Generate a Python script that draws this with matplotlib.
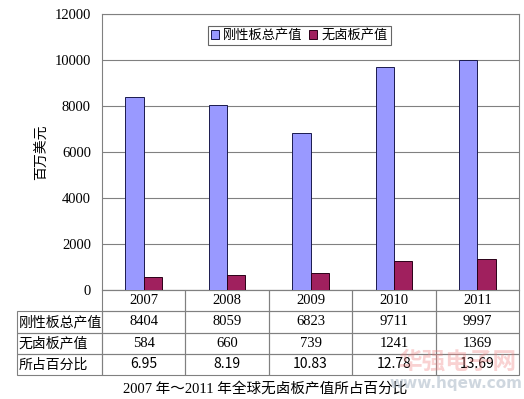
import matplotlib.pyplot as plt
import numpy as np

plt.rcParams['font.family'] = ['Liberation Serif', 'Noto Sans CJK SC']

years = ['2007', '2008', '2009', '2010', '2011']
rigid = [8404, 8059, 6823, 9711, 9997]
halogen_free = [584, 660, 739, 1241, 1369]
pct = ['6.95', '8.19', '10.83', '12.78', '13.69']
row_names = ['刚性板总产值', '无卤板产值', '所占百分比']
y_ticks = [0, 2000, 4000, 6000, 8000, 10000, 12000]

fig = plt.figure(figsize=(5.24, 3.99), dpi=100)
ax = fig.add_axes([102 / 524, 1 - 290 / 399, 417 / 524, 276 / 399])

x = np.arange(len(years))
w = 0.22
ax.bar(x - w / 2, rigid, w, color='#9999FF', edgecolor='#1a1a4d', linewidth=0.7,
       label=row_names[0], zorder=3)
ax.bar(x + w / 2, halogen_free, w, color='#A0205E', edgecolor='#2a0018', linewidth=0.7,
       label=row_names[1], zorder=3)

ax.set_xlim(-0.5, len(years) - 0.5)
ax.set_ylim(0, 12000)
ax.set_yticks(y_ticks)
ax.set_yticklabels([str(v) for v in y_ticks], fontsize=10.5)
ax.set_xticks([])
ax.tick_params(axis='y', length=0, pad=8)
ax.grid(axis='y', color='#808080', linewidth=0.8, zorder=0)
for s in ax.spines.values():
    s.set_color('#808080')
    s.set_linewidth(0.8)
ax.set_ylabel('百万美元', fontsize=10, family='Noto Sans CJK SC', labelpad=4)

leg = ax.legend(loc='upper left', bbox_to_anchor=(0.254, 0.957), ncol=2,
                prop={'family': 'Noto Sans CJK SC', 'size': 9.5},
                frameon=True, fancybox=False, handlelength=0.6, handleheight=0.6,
                handletextpad=0.3, columnspacing=0.5, borderpad=0.25, borderaxespad=0)
leg.get_frame().set_edgecolor('#404040')
leg.get_frame().set_linewidth(0.8)

# data table under the axis
cells = [[''] + years,
         [row_names[0]] + [str(v) for v in rigid],
         [row_names[1]] + [str(v) for v in halogen_free],
         [row_names[2]] + pct]
left = 85 / 417
tbl = ax.table(cellText=cells, cellLoc='center',
               colWidths=[left] + [1 / len(years)] * len(years),
               bbox=[-left, -85 / 276, 1 + left, 85 / 276])
tbl.auto_set_font_size(False)
for (r, c), cell in tbl.get_celld().items():
    cell.set_edgecolor('#808080')
    cell.set_linewidth(0.8)
    cell.set_facecolor('none')
    txt = cell.get_text()
    txt.set_fontsize(10.5)
    if c == 0:
        txt.set_family('Noto Sans CJK SC')
        txt.set_fontsize(10)
        txt.set_ha('left')
        cell.PAD = 0.02
    if r == 3 and c > 0:
        txt.set_family('Noto Sans CJK SC')
        txt.set_fontsize(10)
    if r == 0 and c == 0:
        cell.visible_edges = ''

fig.text(0.507, 0.027, '2007 年～2011 年全球无卤板产值所占百分比', ha='center', va='center',
         fontsize=10.5, family=['Liberation Serif', 'Noto Sans CJK SC'])

# faint watermark
fig.text(0.873, 0.093, '华强电子网', ha='center', va='center', fontsize=17,
         family='Noto Sans CJK SC', color='#f08080', alpha=0.35, weight='bold')
fig.text(0.871, 0.04, 'www.hqew.com', ha='center', va='center', fontsize=11,
         family='DejaVu Sans', color='#a0b0c0', alpha=0.5, weight='bold')

fig.savefig('out.png', dpi=100)
